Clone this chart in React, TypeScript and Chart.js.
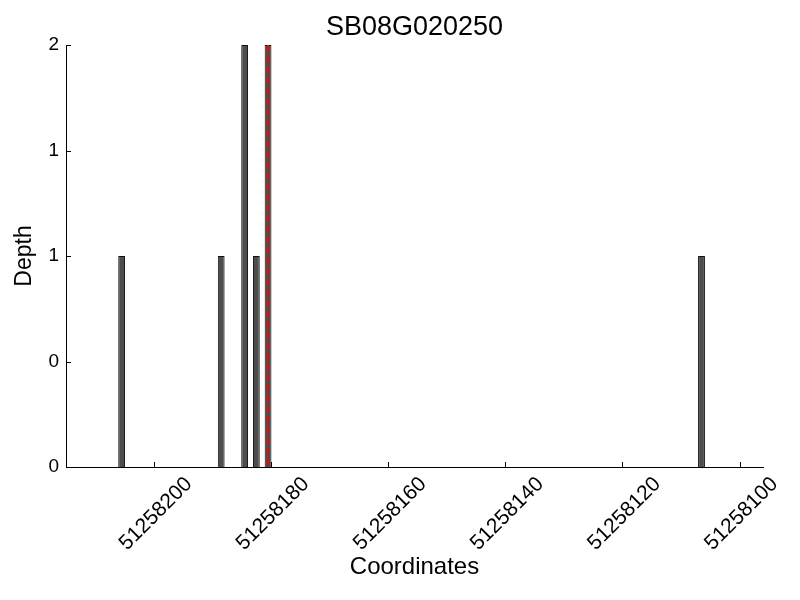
import React, { useEffect, useRef } from "react";
import { Chart, registerables } from "chart.js";

Chart.register(...registerables);

const chartTitle = "SB08G020250";
const xAxisLabel = "Coordinates";
const yAxisLabel = "Depth";

const coordinates = [51258205, 51258188, 51258184, 51258182, 51258180, 51258106];
const depths = [1, 1, 2, 1, 2, 1];

const xTickValues = [51258200, 51258180, 51258160, 51258140, 51258120, 51258100];
const yTickValues = [0, 0.5, 1, 1.5, 2];
const yTickLabels = ["0", "0", "1", "1", "2"];

const markerCoordinate = 51258180.5;
const xMin = 51258096;
const xMax = 51258215;
const yMin = 0;
const yMax = 2;

const FONT = "'Liberation Sans', Arial, Helvetica, sans-serif";

const overlayPlugin = {
  id: "overlay",
  afterDatasetsDraw(chart: any) {
    const { ctx, chartArea, scales } = chart;
    const x = scales.x;
    const y = scales.y;
    ctx.save();
    ctx.strokeStyle = "#000";
    ctx.lineWidth = 1;
    ctx.beginPath();
    xTickValues.forEach((v) => {
      const px = Math.round(x.getPixelForValue(v)) + 0.5;
      ctx.moveTo(px, chartArea.bottom);
      ctx.lineTo(px, chartArea.bottom - 5);
    });
    yTickValues.forEach((v) => {
      const py = Math.round(y.getPixelForValue(v)) + 0.5;
      ctx.moveTo(chartArea.left, py);
      ctx.lineTo(chartArea.left + 5, py);
    });
    ctx.stroke();

    const mx = x.getPixelForValue(markerCoordinate);
    ctx.strokeStyle = "#ff0000";
    ctx.lineWidth = 2;
    ctx.setLineDash([7.4, 3.2]);
    ctx.beginPath();
    ctx.moveTo(mx, chartArea.top);
    ctx.lineTo(mx, chartArea.bottom);
    ctx.stroke();
    ctx.restore();
  },
};

export default function App() {
  const canvasRef = useRef<HTMLCanvasElement | null>(null);

  useEffect(() => {
    if (!canvasRef.current) return;
    Chart.defaults.font.family = FONT;
    const chart = new Chart(canvasRef.current, {
      type: "bar",
      data: {
        datasets: [
          {
            data: coordinates.map((c, i) => ({ x: c + 0.5, y: depths[i] })),
            backgroundColor: "#4d4d4d",
            borderColor: "#111111",
            borderWidth: 1,
            categoryPercentage: 0.58,
            barPercentage: 1,
          } as any,
        ],
      },
      options: {
        responsive: false,
        animation: false,
        layout: { padding: { left: 0, right: 37, top: 0, bottom: 0 } },
        plugins: {
          legend: { display: false },
          tooltip: { enabled: false },
          title: {
            display: true,
            text: chartTitle,
            color: "#000",
            fullSize: false,
            font: { size: 27, weight: "normal", family: FONT },
            padding: { top: 11, bottom: 1.6 },
          },
        },
        scales: {
          x: {
            type: "linear",
            reverse: true,
            min: xMin,
            max: xMax,
            offset: false,
            afterBuildTicks: (s: any) => {
              s.ticks = xTickValues.map((v) => ({ value: v }));
            },
            afterFit: (s: any) => {
              s.height = 133;
              s.paddingLeft = 0;
              s.paddingRight = 0;
            },
            grid: { display: false, drawTicks: false },
            border: { display: true, color: "#000", width: 1 },
            ticks: {
              autoSkip: false,
              maxRotation: 45,
              minRotation: 45,
              color: "#000",
              font: { size: 21, family: FONT },
              padding: 5,
              labelOffset: 35,
              callback: (v: any) => String(v),
            },
            title: {
              display: true,
              text: xAxisLabel,
              color: "#000",
              font: { size: 24, family: FONT },
              padding: { top: 0, bottom: 18 },
            },
          } as any,
          y: {
            min: yMin,
            max: yMax,
            afterBuildTicks: (s: any) => {
              s.ticks = yTickValues.map((v) => ({ value: v }));
            },
            afterFit: (s: any) => {
              s.width = 66;
              s.paddingTop = 0;
              s.paddingBottom = 0;
            },
            grid: { display: false, drawTicks: false },
            border: { display: true, color: "#000", width: 1 },
            ticks: {
              color: "#000",
              font: { size: 19, family: FONT },
              padding: 7,
              callback: (_v: any, i: number) => yTickLabels[i],
            },
            title: {
              display: true,
              text: yAxisLabel,
              color: "#000",
              font: { size: 23, family: FONT },
              padding: { top: 11, bottom: 0 },
            },
          } as any,
        },
      },
      plugins: [overlayPlugin],
    });
    return () => chart.destroy();
  }, []);

  return (
    <div style={{ position: "fixed", left: 0, top: 0, width: 800, height: 600, background: "#fff" }}>
      <canvas ref={canvasRef} width={800} height={600} style={{ display: "block" }} />
    </div>
  );
}
